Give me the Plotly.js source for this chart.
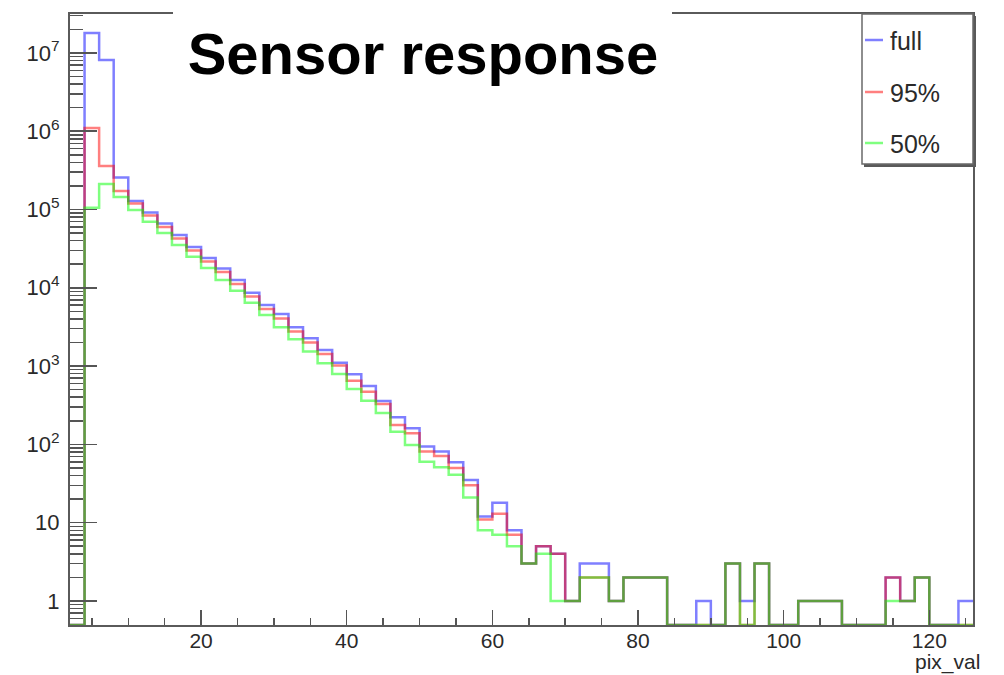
<!DOCTYPE html>
<html>
<head>
<meta charset="utf-8">
<script src="https://cdn.plot.ly/plotly-3.0.1.min.js"></script>
<style>
  html, body { margin: 0; padding: 0; background: #ffffff; }
  #chart { width: 1004px; height: 675px; }
</style>
</head>
<body>
<div id="chart"></div>
<script>
// ---------------- data ----------------
const binLowEdges = [2,4,6,8,10,12,14,16,18,20,22,24,26,28,30,32,34,36,38,40,
  42,44,46,48,50,52,54,56,58,60,62,64,66,68,70,72,74,76,78,80,
  82,84,86,88,90,92,94,96,98,100,102,104,106,108,110,112,114,116,118,120,
  122,124];
const binLastUpEdge = 126;

const seriesNames = ['full', '95%', '50%'];

const countsFull = [0,18000000,8100000,256000,128000,91600,66200,47200,33200,24000,
  17700,12600,8660,6030,4630,3130,2260,1610,1100,786,
  557,358,222,161,94,81,59,35,12,18,
  8,3,5,4,1,3,3,1,2,2,
  2,0,0,1,0,3,1,3,0,0,
  1,1,1,0,0,0,2,1,2,0,
  0,1];

const counts95 = [0,1100000,359000,172000,119000,83800,59800,42600,29900,21700,
  15900,11200,7740,5360,4060,2770,2000,1430,1020,651,
  471,328,177,139,81,71,50,30,11,13,
  7,3,5,4,1,2,2,1,2,2,
  2,0,0,0,0,3,0,3,0,0,
  1,1,1,0,0,0,2,1,2,0,
  0,0];

const counts50 = [0,105000,212000,144000,98600,69900,50100,35200,25000,17900,
  12600,9180,6450,4500,3130,2200,1530,1090,793,510,
  361,252,145,98,60,51,41,21,8,7,
  5,3,4,1,1,2,2,1,2,2,
  2,0,0,0,0,3,0,3,0,0,
  1,1,1,0,0,0,1,1,2,0,
  0,0];

const chartTitle = 'Sensor response';
const xAxisLabel = 'pix_val';

// ---------------- layout geometry ----------------
const W = 1004, H = 675;
const M = { l: 70, r: 31, t: 14, b: 50 };
const plotW = W - M.l - M.r, plotH = H - M.t - M.b;
const px = x => (x - M.l) / plotW;          // pixel -> paper x
const py = y => (M.t + plotH - y) / plotH;  // pixel -> paper y

const xRange = [2, 126];
const yRangeLog = [-0.307, 7.497];
const yFloor = Math.pow(10, yRangeLog[0]);   // empty bins drawn on the frame bottom

const colors = ['rgba(0,0,255,0.5)', 'rgba(255,0,0,0.5)', 'rgba(0,255,0,0.5)'];
const FONT = '"Liberation Sans", Arial, Helvetica, sans-serif';

function stepTrace(counts, name, color) {
  const xs = binLowEdges.concat([binLastUpEdge]);
  const ys = counts.map(c => (c > 0 ? c : yFloor));
  ys.push(ys[ys.length - 1]);
  return {
    type: 'scatter', mode: 'lines', name: name,
    x: xs, y: ys,
    line: { shape: 'hv', color: color, width: 2.5 },
    hoverinfo: 'skip', showlegend: false
  };
}

const data = [
  stepTrace(countsFull, seriesNames[0], colors[0]),
  stepTrace(counts95, seriesNames[1], colors[1]),
  stepTrace(counts50, seriesNames[2], colors[2])
];

// ---------------- decorations (legend box, title box) ----------------
const shapes = [];
const annotations = [];

// white box behind the title, covering the top frame line
shapes.push({ type: 'rect', xref: 'paper', yref: 'paper', layer: 'above',
  x0: px(173), x1: px(672), y0: py(26), y1: py(2),
  fillcolor: '#ffffff', line: { width: 0 } });

// legend: shadow + box
shapes.push({ type: 'rect', xref: 'paper', yref: 'paper', layer: 'above',
  x0: px(864), x1: px(976), y0: py(167), y1: py(16),
  fillcolor: '#5a5a5a', line: { width: 0 } });
shapes.push({ type: 'rect', xref: 'paper', yref: 'paper', layer: 'above',
  x0: px(862), x1: px(973), y0: py(164), y1: py(14),
  fillcolor: '#ffffff', line: { color: '#6a6a6a', width: 1.5 } });

const legendRows = [41, 93, 144];
seriesNames.forEach((nm, i) => {
  shapes.push({ type: 'line', xref: 'paper', yref: 'paper', layer: 'above',
    x0: px(865), x1: px(883), y0: py(legendRows[i] - 1), y1: py(legendRows[i] - 1),
    line: { color: colors[i], width: 2.5 } });
  annotations.push({ xref: 'paper', yref: 'paper', x: px(888), y: py(legendRows[i]),
    xanchor: 'left', yanchor: 'middle', showarrow: false, text: nm,
    font: { family: FONT, size: 25, color: '#2a2a2a' } });
});

// x axis label, right-aligned under the axis end
annotations.push({ xref: 'paper', yref: 'paper', x: px(981), y: py(662),
  xanchor: 'right', yanchor: 'middle', showarrow: false, text: xAxisLabel,
  borderpad: 0,
  font: { family: FONT, size: 21, color: '#2a2a2a' } });

const layout = {
  width: W, height: H,
  margin: M,
  paper_bgcolor: '#ffffff', plot_bgcolor: '#ffffff',
  showlegend: false,
  font: { family: FONT, color: '#2a2a2a' },
  title: {
    text: chartTitle,
    font: { family: FONT, size: 58, weight: 'bold', color: '#000000' },
    xref: 'container', yref: 'container',
    x: 423 / W, xanchor: 'center',
    y: 1 - 54 / H, yanchor: 'middle'
  },
  xaxis: {
    range: xRange, tick0: 0, dtick: 20,
    ticks: 'inside', ticklen: 15, tickwidth: 1.5, tickcolor: '#555',
    showline: true, linecolor: '#5a5a5a', linewidth: 2, mirror: true,
    showgrid: false, zeroline: false,
    tickfont: { family: FONT, size: 21, color: '#2a2a2a' },
    ticklabelstandoff: -4,
    minor: { ticks: 'inside', ticklen: 7, tickwidth: 1.5, tickcolor: '#555', dtick: 5, showgrid: false }
  },
  yaxis: {
    type: 'log', range: yRangeLog, dtick: 1, exponentformat: 'power',
    ticks: 'inside', ticklen: 27, tickwidth: 1.5, tickcolor: '#555',
    showline: true, linecolor: '#5a5a5a', linewidth: 2, mirror: true,
    showgrid: false, zeroline: false,
    tickfont: { family: FONT, size: 17.6, color: '#2a2a2a' },
    ticklabelstandoff: 5,
    minor: { ticks: 'inside', ticklen: 13, tickwidth: 1.5, tickcolor: '#555', dtick: 'D1', showgrid: false }
  },
  shapes: shapes,
  annotations: annotations
};

Plotly.newPlot('chart', data, layout, { staticPlot: true, displayModeBar: false });
</script>
</body>
</html>
